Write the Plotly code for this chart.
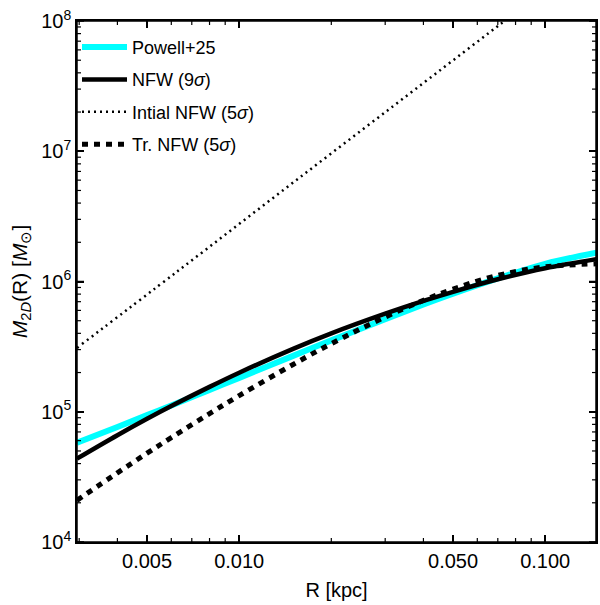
import plotly.graph_objects as go

# Radii [kpc]
R = [0.00295, 0.004, 0.005, 0.006, 0.008, 0.01, 0.015, 0.02, 0.03, 0.04, 0.05, 0.07, 0.1, 0.147]

# log10 of projected mass for each curve
logM_powell = [4.762, 4.883, 4.974, 5.048, 5.167, 5.260, 5.429, 5.548, 5.711, 5.824, 5.907, 6.024, 6.136, 6.222]
logM_nfw9 = [4.640, 4.820, 4.946, 5.044, 5.191, 5.300, 5.483, 5.602, 5.753, 5.851, 5.921, 6.017, 6.102, 6.172]
logM_trnfw = [4.320, 4.531, 4.682, 4.802, 4.986, 5.124, 5.363, 5.523, 5.727, 5.855, 5.942, 6.047, 6.112, 6.136]

R_init = [0.00295, 0.0063, 0.0158, 0.0398, 0.0708, 0.112]
logM_init = [5.49, 6.08, 6.80, 7.52, 7.97, 8.33]

M_powell = [10 ** v for v in logM_powell]
M_nfw9 = [10 ** v for v in logM_nfw9]
M_trnfw = [10 ** v for v in logM_trnfw]
M_init = [10 ** v for v in logM_init]

x_tickvals = [0.005, 0.01, 0.05, 0.1]
x_ticktext = ["0.005", "0.010", "0.050", "0.100"]
x_minor = [0.003, 0.004, 0.006, 0.007, 0.008, 0.009, 0.02, 0.03, 0.04, 0.06, 0.07, 0.08, 0.09]
y_tickvals = [1e4, 1e5, 1e6, 1e7, 1e8]
y_ticktext = ["10<sup>4</sup>", "10<sup>5</sup>", "10<sup>6</sup>", "10<sup>7</sup>", "10<sup>8</sup>"]
y_minor = [m * 10 ** e for e in range(4, 8) for m in range(2, 10)]

X_RANGE = [-2.530, -0.834]
Y_RANGE = [4, 8]
FONT = "Liberation Sans, Arial, sans-serif"

fig = go.Figure()
fig.add_trace(go.Scatter(x=R, y=M_powell, mode="lines", name="Powell+25", legendgroup="a",
                         line=dict(color="#00FFFF", width=6, shape="spline")))
fig.add_trace(go.Scatter(x=R, y=M_nfw9, mode="lines", name="NFW (9<i>σ</i>)", legendgroup="b",
                         line=dict(color="black", width=4.5, shape="spline")))
fig.add_trace(go.Scatter(x=R_init, y=M_init, mode="lines", name="Intial NFW (5<i>σ</i>)", legendgroup="c",
                         line=dict(color="black", width=2.5, dash="2px,4px", shape="spline")))
fig.add_trace(go.Scatter(x=R, y=M_trnfw, mode="lines", name="Tr. NFW (5<i>σ</i>)", legendgroup="d",
                         line=dict(color="black", width=5, dash="6px,6px", shape="spline")))

common = dict(showgrid=False, zeroline=False, showline=True, linecolor="black", linewidth=1.5,
              mirror="ticks", ticks="inside", tickcolor="black", automargin=False)

fig.update_layout(
    width=600, height=605,
    margin=dict(l=77, r=4, t=21, b=63),
    paper_bgcolor="white", plot_bgcolor="white",
    showlegend=True,
    xaxis=dict(type="log", range=X_RANGE, tickmode="array", tickvals=x_tickvals, ticktext=x_ticktext,
               ticklen=7, tickwidth=1.5, tickfont=dict(family=FONT, size=20, color="black"),
               title=dict(text="R [kpc]", font=dict(family=FONT, size=20, color="black"), standoff=12),
               **common),
    yaxis=dict(type="log", range=Y_RANGE, tickmode="array", tickvals=y_tickvals, ticktext=y_ticktext,
               ticklen=7, tickwidth=1.5, tickfont=dict(family=FONT, size=20, color="black"),
               title=dict(text="<i>M</i><sub>2<i>D</i></sub>(R) [<i>M</i><sub>⊙</sub>]",
                          font=dict(family=FONT, size=21, color="black"), standoff=8),
               **common),
    legend=dict(x=0.0, y=0.985, xanchor="left", yanchor="top", bgcolor="rgba(0,0,0,0)",
                font=dict(family=FONT, size=18, color="black"), tracegroupgap=6, itemwidth=45),
)

# frame
fig.add_shape(type="rect", xref="paper", yref="paper", x0=0, y0=0, x1=1, y1=1,
              line=dict(color="black", width=1.5), fillcolor="rgba(0,0,0,0)", layer="above")

# inward ticks on all four sides, placed at the tick values through the axes
MAJOR_LEN, MINOR_LEN = 7, 4
for vals, length, width in [(x_tickvals, MAJOR_LEN, 1.5), (x_minor, MINOR_LEN, 1.2)]:
    for v in vals:
        for anchor, sign in [(0, 1), (1, -1)]:
            fig.add_shape(type="line", xref="x", yref="paper", ysizemode="pixel", yanchor=anchor,
                          x0=v, x1=v, y0=0, y1=sign * length,
                          line=dict(color="black", width=width), layer="above")
for vals, length, width in [(y_tickvals, MAJOR_LEN, 1.5), (y_minor, MINOR_LEN, 1.2)]:
    for v in vals:
        for anchor, sign in [(0, 1), (1, -1)]:
            fig.add_shape(type="line", xref="paper", yref="y", xsizemode="pixel", xanchor=anchor,
                          y0=v, y1=v, x0=0, x1=sign * length,
                          line=dict(color="black", width=width), layer="above")

fig.write_html("out.html", config={"displayModeBar": False},
               post_script="document.body.style.margin='0';document.body.style.padding='0';")
